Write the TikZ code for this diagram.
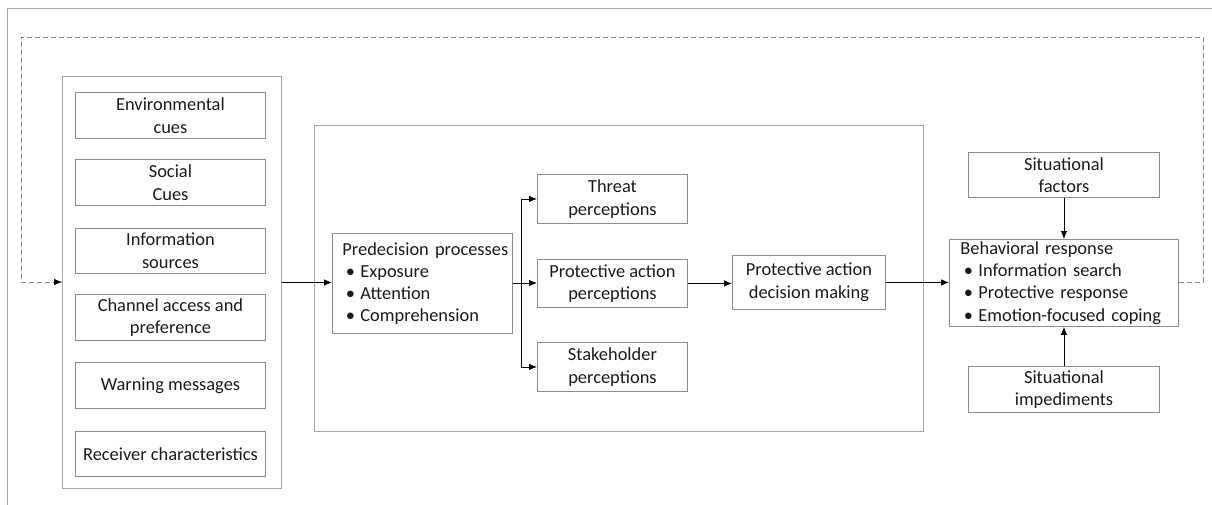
\documentclass[tikz,border=0pt]{standalone}
\usepackage{fontspec}
\setmainfont{Carlito}
\usetikzlibrary{arrows.meta}
\definecolor{framegray}{HTML}{A6A6A6}
\definecolor{boxgray}{HTML}{8C8C8C}
\definecolor{txt}{HTML}{1A1A1A}
\newcommand{\bul}{\makebox[18pt][l]{\hspace{3.5pt}•}}
\begin{document}
\begin{tikzpicture}[x=1pt,y=-1pt,
  box/.style={draw=boxgray, line width=0.9pt, anchor=north west, inner sep=0pt, align=center,
    font=\fontsize{18.4}{22.5}\selectfont, text=txt},
  frame/.style={draw=framegray, line width=1pt},
  bigbox/.style={draw=framegray, line width=1pt, anchor=north west, inner sep=0pt},
  arr/.style={draw=black, line width=0.8pt, -{Latex[length=8pt,width=6.5pt]}},
  conn/.style={draw=black, line width=0.8pt},
  fb/.style={draw=gray, line width=0.8pt, dash pattern=on 5pt off 3pt}]
\useasboundingbox (0,0) rectangle (1212,505);
\draw[frame] (7,505) -- (7,9) -- (1212,9);
% big containers
\node[bigbox, minimum width=219pt, minimum height=412pt] (left) at (62,76) {};
\node[bigbox, minimum width=609pt, minimum height=306pt] (mid) at (314,125) {};
% left column
\node[box, minimum width=190pt, minimum height=46pt] (env) at (75,92) {Environmental\\cues};
\node[box, minimum width=190pt, minimum height=46pt] (soc) at (75,159) {Social\\Cues};
\node[box, minimum width=190pt, minimum height=45pt] (inf) at (75,228) {Information\\sources};
\node[box, minimum width=190pt, minimum height=46pt] (chn) at (75,294) {Channel access and\\preference};
\node[box, minimum width=190pt, minimum height=46pt] (wrn) at (75,362) {Warning messages};
\node[box, minimum width=190pt, minimum height=45pt] (rcv) at (75,431) {Receiver characteristics};
% middle
\node[box, minimum width=180pt, minimum height=100pt, align=left, text width=174pt, inner xsep=3pt,
  font=\fontsize{18.4}{22}\selectfont] (pre) at (332,233)
  {\hspace*{7pt}Predecision processes\\\hspace*{7pt}\bul Exposure\\\hspace*{7pt}\bul Attention\\\hspace*{7pt}\bul Comprehension};
\node[box, minimum width=150pt, minimum height=49pt] (thr) at (537,174) {Threat\\perceptions};
\node[box, minimum width=150pt, minimum height=48pt] (pap) at (537,259) {Protective action\\perceptions};
\node[box, minimum width=150pt, minimum height=49pt] (stk) at (537,342) {Stakeholder\\perceptions};
\node[box, minimum width=153pt, minimum height=54pt] (padm) at (732,255) {Protective action\\decision making};
% right
\node[box, minimum width=229pt, minimum height=87pt, align=left, text width=223pt, inner xsep=3pt,
  font=\fontsize{18.4}{22.3}\selectfont] (beh) at (949,239)
  {\hspace*{8pt}Behavioral response\\\hspace*{8pt}\bul Information search\\\hspace*{8pt}\bul Protective response\\\hspace*{8pt}\bul Emotion-focused coping};
\node[box, minimum width=191pt, minimum height=45pt] (sf) at (968,152) {Situational\\factors};
\node[box, minimum width=191pt, minimum height=46pt] (si) at (968,366) {Situational\\impediments};
% connectors
\draw[arr] (left.east) -- (left.east -| pre.west);
\coordinate (br) at (521,283);
\draw[conn] (pre.east |- br) -- (br);
\draw[arr] (br) |- (thr.west);
\draw[arr] (br) |- (stk.west);
\draw[arr] (br) -- (br -| pap.west);
\draw[arr] (pap.east) -- (pap.east -| padm.west);
\draw[arr] (padm.east) -- (padm.east -| beh.west);
\draw[arr] (sf.south) -- (sf.south |- beh.north);
\draw[arr] (si.north) -- (si.north |- beh.south);
% feedback dashed
\coordinate (fr) at (1203,282);
\coordinate (frt) at (1203,37);
\coordinate (flt) at (21,37);
\coordinate (fl) at (21,282);
\draw[fb] (beh.east |- fr) -- (fr) -- (frt) -- (flt) -- (fl) -- (left.west |- fl);
\draw[draw=black, line width=0.8pt, -{Latex[length=8pt,width=6.5pt]}] ([xshift=-8pt]left.west |- fl) -- (left.west |- fl);
\end{tikzpicture}
\end{document}
